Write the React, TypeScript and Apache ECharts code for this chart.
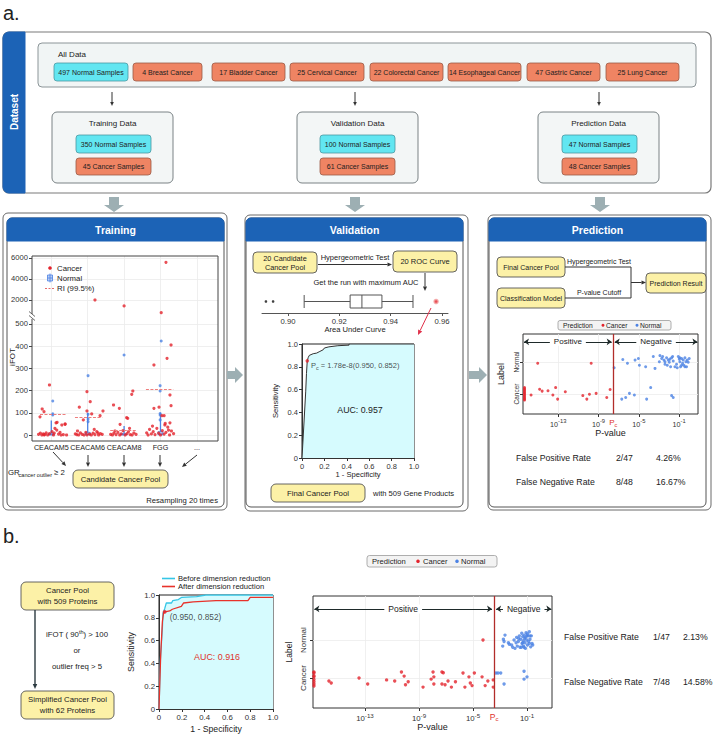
import React, { useEffect, useRef } from 'react';
import * as echarts from 'echarts';

const FONT = '"Liberation Sans", Arial, Helvetica, sans-serif';
const BLUE = '#1c63b6';
const CYAN = '#62e6f1';
const ORANGE = '#ef8463';
const YELLOW = '#fcf1a7';
const RED = '#e3232c';
const NBLUE = '#4b82e4';
const GREYARROW = '#9dafb3';
const ROCFILL = '#d6fbfe';

// ---------------- data ----------------
const allDataLabels = ['497 Normal Samples', '4 Breast Cancer', '17 Bladder Cancer', '25 Cervical Cancer', '22 Colorectal Cancer', '14 Esophageal Cancer', '47 Gastric Cancer', '25 Lung Cancer'];
const trainingDataLabels = ['350 Normal Samples', '45 Cancer Samples'];
const validationDataLabels = ['100 Normal Samples', '61 Cancer Samples'];
const predictionDataLabels = ['47 Normal Samples', '48 Cancer Samples'];

const trainCategories = ['CEACAM5', 'CEACAM6', 'CEACAM8', 'FGG', '...'];
const trainCatTicks = [0, 1, 2, 3, 4];
const trainLowTicks = [0, 100, 200, 300, 400, 500];
const trainHighTicks = [2000, 4000, 6000];
const trainCancerHigh = [[1.2, 2000], [2.0, 1430], [3.15, 5590], [3.02, 790]];
const trainCancerLow = [
  [-0.35, 3], [-0.3, 8], [-0.26, 0], [-0.22, 5], [-0.2, 1], [-0.18, 2], [-0.14, 10], [-0.1, 0], [-0.05, 6], [0.02, 15], [0.06, 0], [0.08, 8], [0.1, 30], [0.13, 55], [0.15, 22], [0.2, 4], [0.24, 12], [0.27, 0], [0.29, 45], [0.33, 2], [0.38, 50], [0.42, 0],
  [-0.05, 225], [-0.25, 117], [-0.2, 105], [-0.31, 82], [0.16, 57], [0.38, 48],
  [0.66, 5], [0.7, 2], [0.72, 18], [0.75, 0], [0.8, 10], [0.85, 3], [0.9, 0], [0.95, 12], [0.98, 1], [1.05, 4], [1.1, 0], [1.15, 8], [1.18, 25], [1.2, 2], [1.25, 15], [1.28, 10], [1.3, 0], [1.35, 6], [1.4, 3],
  [0.98, 195], [0.77, 125], [0.98, 108], [1.07, 150], [0.88, 68], [1.11, 95], [1.34, 87], [1.42, 108],
  [1.63, 3], [1.68, 0], [1.72, 8], [1.75, 18], [1.78, 2], [1.83, 12], [1.88, 0], [1.92, 5], [1.97, 20], [2.03, 0], [2.08, 6], [2.12, 15], [2.15, 30], [2.17, 2], [2.22, 0], [2.27, 9], [2.33, 3],
  [1.71, 135], [1.87, 120], [2.21, 183], [2.24, 198], [2.07, 78], [2.1, 75], [1.89, 48],
  [2.62, 10], [2.66, 0], [2.7, 25], [2.75, 5], [2.78, 40], [2.8, 15], [2.85, 2], [2.9, 30], [2.95, 8], [3.0, 0], [3.05, 20], [3.1, 4], [3.12, 45], [3.15, 12], [3.2, 35], [3.22, 22], [3.25, 0], [3.3, 18], [3.36, 6],
  [2.82, 120], [2.96, 125], [3.26, 180], [3.29, 132], [3.04, 87], [3.1, 87], [3.26, 55], [3.13, 52], [3.29, 405], [3.18, 345], [2.82, 315],
];
const trainNormalOutliers = [[0.04, 153], [0.04, 95], [0.04, 90], [1.01, 267], [1.01, 93], [1.01, 72], [1.01, 60], [2.0, 360], [3.02, 423], [2.99, 222], [2.99, 198], [2.99, 97], [2.99, 90], [2.99, 68]];
// [category index, min, q1, median, q3, max]
const trainNormalBox = [[0, 0, 0, 2, 8, 65], [1, 0, 1, 4, 12, 100], [2, 0, 0, 2, 6, 40], [3, 0, 1, 5, 15, 100]];
// [x start, x end, RI value]
const trainRI = [[-0.31, 0.43, 93], [0.65, 1.4, 82], [1.62, 2.36, 22], [2.6, 3.35, 207]];

const aucTicks = [0.9, 0.92, 0.94, 0.96];
const aucBox = [0.9063, 0.9242, 0.9288, 0.9366, 0.9487];
const aucOutliers = [0.8914, 0.8942];
const aucBest = 0.9577;

const valRoc = [[0, 0], [0.033, 0.58], [0.04, 0.74], [0.047, 0.852], [0.055, 0.88], [0.065, 0.9], [0.1, 0.915], [0.13, 0.92], [0.16, 0.935], [0.19, 0.95], [0.2, 0.965], [0.24, 0.975], [0.32, 0.985], [0.42, 0.99], [0.42, 1], [1, 1]];
const valCutPoint = [0.047, 0.852];

const pTicks = [-13, -9, -5, -1];
const labelTicks = [0, 1];
const predCutoff = -7.54;
const predCancer = [
  [-16.35, 0.2], [-16.35, 0.16], [-16.35, 0.12], [-16.35, 0.08], [-16.35, 0.04], [-16.35, 0], [-16.35, -0.04], [-16.35, -0.08], [-16.35, -0.12], [-16.35, -0.16], [-16.35, -0.19],
  [-15.7, -0.03], [-14.85, 0.15], [-14.6, 0.09], [-14.02, 0.1], [-13.53, -0.03], [-13.26, 0.2], [-13.06, -0.16], [-12.3, 0.07], [-10.56, -0.05], [-10.16, -0.16], [-9.9, -0.01], [-9.24, 0.02], [-8.18, -0.11], [-7.85, 0.14],
  [-15.04, 0.96], [-9.73, 0.96],
];
const predNormal = [
  [-6.69, -0.16], [-6.3, -0.11], [-5.93, 0.02], [-5.44, -0.03], [-4.22, -0.16], [-3.82, 0.2], [-1.74, -0.05], [-1.58, -0.11],
  [-7.45, 0.82], [-6.59, 1.08], [-6.13, 0.96], [-5.37, 1.06], [-5.04, 1.11], [-4.94, 0.9], [-4.32, 0.85], [-3.56, 1.17], [-3.39, 0.8], [-2.73, 1.11],
  [-2.63, 1.17], [-2.5, 1.06], [-2.4, 1.01], [-2.24, 1.13], [-2.17, 0.9], [-2.07, 1.06], [-1.97, 0.99], [-1.91, 1.09], [-1.84, 0.85], [-1.74, 1.13],
  [-1.58, 1.03], [-1.41, 0.85], [-1.25, 0.93], [-1.08, 1.17], [-0.98, 1.09], [-0.92, 1.01], [-0.85, 0.85], [-0.75, 1.11], [-0.65, 0.96], [-0.59, 1.06],
  [-0.52, 0.9], [-0.42, 1.13], [-0.32, 1.01], [-0.26, 0.85], [-0.19, 1.06], [-0.09, 0.99], [0.01, 1.11], [-2.96, 1.01], [-2.4, 0.93], [-1.64, 1.17],
  [-1.18, 0.82], [-0.75, 0.9], [-2.9, 1.2], [-0.42, 0.85], [-0.92, 1.13],
];
const predStats = [['False Positive Rate', '2/47', '4.26%'], ['False Negative Rate', '8/48', '16.67%']];

const bRocBefore = [[0, 0], [0.012, 0.43], [0.03, 0.72], [0.035, 0.84], [0.05, 0.88], [0.064, 0.93], [0.11, 0.93], [0.12, 0.95], [0.17, 0.96], [0.2, 0.98], [0.33, 0.985], [0.41, 1], [1, 1]];
const bRocAfter = [[0, 0], [0.006, 0.2], [0.015, 0.475], [0.023, 0.635], [0.03, 0.77], [0.04, 0.845], [0.05, 0.852], [0.094, 0.86], [0.117, 0.875], [0.196, 0.9], [0.216, 0.93], [0.3, 0.94], [0.5, 0.95], [0.78, 0.95], [0.8, 0.98], [1, 0.98]];
const bCutPoint = [0.05, 0.852];
const bCutoff = -3.44;
const bCancer = [
  [-16.78, 0.16], [-16.78, 0.13], [-16.78, 0.06], [-16.78, 0.03], [-16.78, -0.04], [-16.78, -0.1], [-16.78, -0.16], [-16.78, -0.21],
  [-15.67, -0.08], [-15.5, -0.13], [-13.44, 0], [-12.8, -0.16], [-11.4, -0.05], [-10.8, -0.08], [-10.3, 0.16], [-10.1, 0.05], [-10.0, -0.18], [-9.8, -0.1],
  [-8.7, -0.24], [-8.1, -0.03], [-7.96, 0.16], [-7.9, 0.03], [-7.9, -0.16], [-7.3, 0.16], [-7.2, 0.14], [-7.3, -0.16], [-7.07, -0.18], [-6.85, -0.08],
  [-6.6, -0.24], [-6.3, -0.1], [-5.74, 0.13], [-5.6, -0.24], [-5.3, 0.03], [-5.2, -0.13], [-5.07, -0.2], [-4.9, 0.13], [-4.33, 0.03], [-4.1, -0.2],
  [-3.9, -0.08], [-3.5, -0.05], [-3.5, -0.24], [-4.26, 1.0],
];
const bNormal = [
  [-3.3, 0.13], [-3.15, 0.13], [-2.95, 0.13], [-2.7, -0.16], [-1.22, 0.18], [-1.22, -0.03], [-1.0, 0.03],
  [-2.63, 1.13], [-2.75, 1.02], [-2.7, 0.96], [-2.8, 0.84], [-2.31, 0.89], [-1.96, 1.0], [-1.89, 0.78], [-1.77, 1.07], [-1.64, 0.96], [-1.57, 1.11],
  [-1.52, 0.81], [-1.47, 1.02], [-1.39, 1.18], [-1.37, 0.91], [-1.32, 1.09], [-1.27, 0.98], [-1.27, 0.84], [-1.22, 1.13], [-1.17, 1.04], [-1.15, 0.93],
  [-1.12, 0.78], [-1.07, 1.19], [-1.02, 1.0], [-0.97, 0.87], [-0.93, 1.11], [-0.88, 0.96], [-0.83, 1.22], [-0.78, 1.02], [-0.73, 0.82], [-0.68, 1.11],
  [-0.63, 0.91], [-0.58, 0.87], [-2.14, 0.87], [-1.72, 0.84], [-1.42, 0.81], [-1.02, 1.11], [-1.22, 0.81], [-1.62, 1.04], [-0.83, 0.91], [-1.32, 0.93],
  [-1.12, 1.07], [-0.97, 1.16], [-1.81, 0.93], [-2.06, 0.81], [-2.38, 0.93], [-0.78, 1.11],
];
const bStats = [['False Positive Rate', '1/47', '2.13%'], ['False Negative Rate', '7/48', '14.58%']];

// ---------------- helpers ----------------
function T(x: number, y: number, text: string, size = 7.6, o: any = {}): any {
  return { type: 'text', z: 60, x, y, style: { text, fontSize: size, fontFamily: FONT, fill: '#222', align: 'center', verticalAlign: 'middle', ...o } };
}
function TR(x: number, y: number, text: string, size: number, o: any = {}): any {
  return { type: 'text', z: 60, x, y, rotation: Math.PI / 2, style: { text, fontSize: size, fontFamily: FONT, fill: '#222', align: 'center', verticalAlign: 'middle', ...o } };
}
function R(x: number, y: number, w: number, h: number, fill: string, stroke: string, r: any = 0, lw = 1, z = 1): any {
  return { type: 'rect', z, shape: { x, y, width: w, height: h, r }, style: { fill, stroke, lineWidth: lw } };
}
function L(x1: number, y1: number, x2: number, y2: number, stroke = '#333', lw = 1, z = 20, dash?: number[]): any {
  return { type: 'line', z, shape: { x1, y1, x2, y2 }, style: { stroke, lineWidth: lw, lineDash: dash } };
}
function A(x1: number, y1: number, x2: number, y2: number, color = '#333', lw = 1, hs = 4.5): any[] {
  const ang = Math.atan2(y2 - y1, x2 - x1);
  const bx = x2 - hs * Math.cos(ang);
  const by = y2 - hs * Math.sin(ang);
  const px = -Math.sin(ang) * hs * 0.45;
  const py = Math.cos(ang) * hs * 0.45;
  return [
    L(x1, y1, bx, by, color, lw),
    { type: 'polygon', z: 21, shape: { points: [[x2, y2], [bx + px, by + py], [bx - px, by - py]] }, style: { fill: color } },
  ];
}
function fatDown(cx: number, y0: number, y1: number): any {
  return { type: 'polygon', z: 2, shape: { points: [[cx - 5, y0], [cx + 5, y0], [cx + 5, y1 - 7], [cx + 10, y1 - 7], [cx, y1], [cx - 10, y1 - 7], [cx - 5, y1 - 7]] }, style: { fill: GREYARROW } };
}
function fatRight(x0: number, cy: number, x1: number): any {
  return { type: 'polygon', z: 2, shape: { points: [[x0, cy - 4], [x1 - 8, cy - 4], [x1 - 8, cy - 8], [x1, cy], [x1 - 8, cy + 8], [x1 - 8, cy + 4], [x0, cy + 4]] }, style: { fill: GREYARROW } };
}
function sampleBox(x: number, y: number, w: number, h: number, label: string, normal: boolean): any[] {
  return [
    R(x, y, w, h, normal ? CYAN : ORANGE, normal ? '#4a98a2' : '#9b5a46', 3, 0.8, 3),
    T(x + w / 2, y + h / 2, label, 7),
  ];
}
function panel(fx: number, fy: number, fw: number, fh: number, ix: number, iy: number, iw: number, ih: number, title: string): any[] {
  return [
    R(fx, fy, fw, fh, '#fff', '#6b6b6b', 5, 1, -6),
    R(ix, iy, iw, ih, '#fff', '#555', 5, 1, -5),
    R(ix, iy, iw, 23, BLUE, BLUE, [5, 5, 0, 0], 1, -4),
    T(ix + iw / 2, iy + 12, title, 10.5, { fill: '#fff', fontWeight: 'bold' }),
  ];
}

function buildGraphics(): any[] {
  const els: any[] = [];
  // ---- a. Dataset ----
  els.push(T(3, 13, 'a.', 20, { align: 'left' }));
  els.push(R(3, 32, 708, 161, '#fff', '#7a7a7a', 6, 1.2, -6));
  els.push(R(3, 32, 22, 161, BLUE, BLUE, [6, 0, 0, 6], 1, -5));
  els.push(TR(14, 112, 'Dataset', 10, { fill: '#fff', fontWeight: 'bold' }));
  els.push(R(38, 43, 658, 44, '#f1f5f5', '#8c9598', 4, 1, 1));
  els.push(T(58, 54, 'All Data', 8, { align: 'left' }));
  const allX = [54, 133, 212, 290, 370, 448, 527, 606];
  const allW = [74, 69, 73, 74, 73, 73, 73, 73];
  allDataLabels.forEach((lab, i) => els.push(...sampleBox(allX[i], 63, allW[i], 18, lab, i === 0)));
  [112, 355, 599].forEach((x) => els.push(...A(x, 92, x, 106, '#333', 1, 4)));
  const subBoxes: [number, number, string, string[]][] = [
    [52, 76, 'Training Data', trainingDataLabels],
    [297, 320, 'Validation Data', validationDataLabels],
    [538, 562, 'Prediction Data', predictionDataLabels],
  ];
  subBoxes.forEach(([bx, ix, title, labs]) => {
    els.push(R(bx, 112, 121, 71, '#f3f6f6', '#7a8285', 5, 1, 1));
    els.push(T(bx + 60.5, 123, title, 8));
    els.push(...sampleBox(ix, 135, 75, 18, labs[0], true));
    els.push(...sampleBox(ix, 158, 75, 17, labs[1], false));
  });
  els.push(fatDown(114, 197, 212), fatDown(355, 197, 212), fatDown(600, 197, 212));

  // ---- panels ----
  els.push(...panel(3, 213, 224, 297, 7, 218, 217, 289, 'Training'));
  els.push(...panel(245, 215, 223, 296, 246, 218, 217, 289, 'Validation'));
  els.push(...panel(488, 215, 223, 295, 489, 218, 217, 289, 'Prediction'));
  els.push(fatRight(227, 375, 243), fatRight(469, 375, 487));

  // Training extras
  els.push(R(32, 256, 186, 185, 'none', '#444', 0, 1, 30));
  els.push(R(30.5, 314, 3, 5, '#fff', '#fff', 0, 0, 31));
  els.push(L(29, 311.5, 35, 316.5, '#444', 0.8, 32), L(29, 315.5, 35, 320.5, '#444', 0.8, 32));
  els.push(TR(12, 357, 'iFOT', 8));
  els.push({ type: 'circle', z: 40, shape: { cx: 50, cy: 268, r: 1.8 }, style: { fill: RED } });
  els.push(T(57, 268, 'Cancer', 7.8, { align: 'left' }));
  els.push(R(47.5, 275, 5, 6, '#bcd0f4', NBLUE, 0, 0.8, 40));
  els.push(L(50, 273.5, 50, 282.5, NBLUE, 0.8, 41), L(47.5, 278, 52.5, 278, NBLUE, 0.8, 41));
  els.push(T(57, 278, 'Normal', 7.8, { align: 'left' }));
  els.push(L(45, 288.5, 55, 288.5, '#e46a6a', 1, 40, [2, 1.5]));
  els.push(T(57, 288.5, 'RI (99.5%)', 7.8, { align: 'left' }));
  els.push(...A(53, 452, 66, 466), ...A(88, 455, 88, 467), ...A(124, 455, 124, 467), ...A(160, 455, 160, 467), ...A(197, 455, 182, 467));
  els.push(T(8, 472, 'GR', 7.8, { align: 'left' }));
  els.push(T(18.5, 474.5, 'cancer outlier', 5.6, { align: 'left' }));
  els.push(T(54, 472, '≥ 2', 7.8, { align: 'left' }));
  els.push(R(73, 470, 95, 18, YELLOW, '#555', 5, 0.9, 5));
  els.push(T(120.5, 479, 'Candidate Cancer Pool', 7.7));
  els.push(T(218, 500, 'Resampling 20 times', 7.7, { align: 'right' }));

  // Validation extras
  els.push(R(253, 252, 64, 21, YELLOW, '#555', 4, 0.9, 5));
  els.push(T(285, 262.5, '20 Candidate\nCancer Pool', 7.3, { lineHeight: 9 }));
  els.push(...A(318, 264.5, 392, 264.5));
  els.push(T(355, 257, 'Hypergeometric Test', 7.5));
  els.push(R(393, 251, 64, 21, YELLOW, '#555', 4, 0.9, 5));
  els.push(T(425, 261.5, '20 ROC Curve', 7.5));
  els.push(...A(425, 273, 425, 291));
  els.push(T(366, 282, 'Get the run with maximum AUC', 7.5));
  els.push(...A(431, 308, 418, 335, '#e0304a', 1, 5));
  els.push(T(360, 410, 'AUC: 0.957', 8.8));
  els.push(R(271, 484, 94, 18, YELLOW, '#555', 5, 0.9, 5));
  els.push(T(318, 493, 'Final Cancer Pool', 7.8));
  els.push(T(373, 493, 'with 509 Gene Products', 7.6, { align: 'left' }));

  // Prediction extras
  els.push(R(497, 257, 68, 20, YELLOW, '#555', 4, 0.9, 5));
  els.push(T(531, 267, 'Final Cancer Pool', 7));
  els.push(R(497, 288, 68, 20, YELLOW, '#555', 4, 0.9, 5));
  els.push(T(531, 298, 'Classification Model', 7));
  els.push({ type: 'polyline', z: 20, shape: { points: [[565, 267], [631, 267], [631, 298], [565, 298]] }, style: { stroke: '#333', lineWidth: 1, fill: 'none' } });
  els.push(...A(631, 282.5, 646, 282.5));
  els.push(T(599, 261, 'Hypergeometric Test', 7));
  els.push(T(599, 292.5, 'P-value Cutoff', 7));
  els.push(R(646, 273, 60, 20, YELLOW, '#555', 4, 0.9, 5));
  els.push(T(676, 283, 'Prediction Result', 7));
  els.push(R(558, 320.5, 113, 9.5, '#f3f3f3', '#9a9a9a', 2, 0.8, 5));
  els.push(T(563, 325.3, 'Prediction', 6.7, { align: 'left' }));
  els.push({ type: 'circle', z: 40, shape: { cx: 603, cy: 325.3, r: 1.5 }, style: { fill: RED } });
  els.push(T(606, 325.3, 'Cancer', 6.7, { align: 'left' }));
  els.push({ type: 'circle', z: 40, shape: { cx: 637, cy: 325.3, r: 1.5 }, style: { fill: NBLUE } });
  els.push(T(640, 325.3, 'Normal', 6.7, { align: 'left' }));
  predStats.forEach((row, i) => {
    const y = 458 + i * 24;
    els.push(T(516, y, row[0], 8.7, { align: 'left' }), T(616, y, row[1], 8.7, { align: 'left' }), T(656, y, row[2], 8.7, { align: 'left' }));
  });

  // ---- b. ----
  els.push(T(3, 536, 'b.', 20, { align: 'left' }));
  els.push(R(367, 555.5, 130, 11.5, '#f3f3f3', '#9a9a9a', 2.5, 0.8, 5));
  els.push(T(372, 561.3, 'Prediction', 7.6, { align: 'left' }));
  els.push({ type: 'circle', z: 40, shape: { cx: 418, cy: 561.3, r: 1.8 }, style: { fill: RED } });
  els.push(T(423, 561.3, 'Cancer', 7.6, { align: 'left' }));
  els.push({ type: 'circle', z: 40, shape: { cx: 457, cy: 561.3, r: 1.8 }, style: { fill: NBLUE } });
  els.push(T(461, 561.3, 'Normal', 7.6, { align: 'left' }));
  els.push(R(21, 582, 93, 28, YELLOW, '#555', 5, 0.9, 5));
  els.push(T(67.5, 596, 'Cancer Pool\nwith 509 Proteins', 7.8, { lineHeight: 11 }));
  els.push(...A(35, 610, 35, 689, '#2b3a40', 1.4, 5));
  els.push(T(77, 634, 'iFOT ( 90{sup|th}) > 100', 7.8, { rich: { sup: { fontSize: 5.5, padding: [0, 0, 5, 0], fontFamily: FONT, fill: '#222' } } }));
  els.push(T(77, 650, 'or', 7.8));
  els.push(T(77, 666, 'outlier freq > 5', 7.8));
  els.push(R(21, 691, 93, 28, YELLOW, '#555', 5, 0.9, 5));
  els.push(T(67.5, 705, 'Simplified Cancer Pool\nwith 62 Proteins', 7.8, { lineHeight: 11 }));
  els.push(L(162, 578.5, 175, 578.5, '#35c6e6', 1.6, 40), T(178, 578.5, 'Before dimension reduction', 7.6, { align: 'left' }));
  els.push(L(162, 586.5, 175, 586.5, '#e8322b', 1.6, 40), T(178, 586.5, 'After dimension reduction', 7.6, { align: 'left' }));
  els.push(T(217, 657, 'AUC: 0.916', 8.9, { fill: '#e0302a' }));
  bStats.forEach((row, i) => {
    const y = 637 + i * 45;
    els.push(T(564, y, row[0], 8.7, { align: 'left' }), T(653, y, row[1], 8.7, { align: 'left' }), T(683, y, row[2], 8.7, { align: 'left' }));
  });
  return els;
}

// ---------------- axes ----------------
const TICKC = '#333';
function trainX(gi: number, labels: boolean): any {
  return {
    type: 'value', gridIndex: gi, min: -0.53, max: 4.58,
    axisLine: { show: false, onZero: false },
    axisTick: { show: false, customValues: trainCatTicks },
    axisLabel: { show: labels, customValues: trainCatTicks, formatter: (v: number) => trainCategories[Math.round(v)], fontSize: 7.2, color: '#222', margin: 3, fontFamily: FONT },
    splitLine: { show: true, lineStyle: { color: '#ebebeb', width: 0.8 } },
  };
}
function trainY(gi: number, min: number, max: number, ticks: number[]): any {
  return {
    type: 'value', gridIndex: gi, min, max,
    axisLine: { show: false, onZero: false },
    axisTick: { show: true, customValues: ticks, length: 3, lineStyle: { color: '#444' } },
    axisLabel: { customValues: ticks, fontSize: 7.6, color: TICKC, margin: 4, fontFamily: FONT, formatter: (v: number) => String(Math.round(v)) },
    splitLine: { show: true, lineStyle: { color: '#ebebeb', width: 0.8 } },
  };
}
function rocAxis(gi: number, isX: boolean, fs: number, nameSize: number, gap: number): any {
  return {
    type: 'value', gridIndex: gi, min: 0, max: 1, interval: 0.2,
    axisLine: { show: true, onZero: false, lineStyle: { color: '#333' } },
    axisTick: { show: true, length: 3, lineStyle: { color: '#333' } },
    axisLabel: { fontSize: fs, color: TICKC, margin: 4, fontFamily: FONT, formatter: (v: number) => (v === 0 ? '0' : v.toFixed(1)) },
    splitLine: { show: false },
    name: isX ? '1 - Specificity' : 'Sensitivity', nameLocation: 'middle', nameGap: gap,
    nameRotate: isX ? 0 : 90,
    nameTextStyle: { fontSize: nameSize, color: '#222', fontFamily: FONT },
  };
}
function pAxis(gi: number, min: number, max: number, fs: number, sup: number, nameSize: number, gap: number): any {
  return {
    type: 'value', gridIndex: gi, min, max,
    axisLine: { show: false, onZero: false },
    axisTick: { show: true, customValues: pTicks, length: 3, lineStyle: { color: '#333' } },
    axisLabel: {
      customValues: pTicks, fontSize: fs, color: TICKC, margin: 4, fontFamily: FONT,
      formatter: (v: number) => '10{sup|' + Math.round(v) + '}',
      rich: { sup: { fontSize: sup, color: TICKC, padding: [0, 0, 6, 0], fontFamily: FONT } },
    },
    splitLine: { show: true, lineStyle: { color: '#ececec', width: 0.8 } },
    name: 'P-value', nameLocation: 'middle', nameGap: gap,
    nameTextStyle: { fontSize: nameSize, color: '#222', fontFamily: FONT },
  };
}
function labelAxis(gi: number, min: number, max: number, fs: number, margin: number, nameSize: number, gap: number): any {
  return {
    type: 'value', gridIndex: gi, min, max,
    axisLine: { show: false, onZero: false },
    axisTick: { show: true, customValues: labelTicks, length: 3, lineStyle: { color: '#333' } },
    axisLabel: { customValues: labelTicks, rotate: 90, fontSize: fs, color: TICKC, margin, fontFamily: FONT, formatter: (v: number) => (v < 0.5 ? 'Cancer' : 'Normal') },
    splitLine: { show: true, lineStyle: { color: '#ececec', width: 0.8 } },
    name: 'Label', nameLocation: 'middle', nameGap: gap, nameRotate: 90,
    nameTextStyle: { fontSize: nameSize, color: '#222', fontFamily: FONT },
  };
}

function cutMarkLine(cut: number, xMin: number, xMax: number, ay: number, fs: number): any {
  const arrowStyle = { color: '#1e2a2a', width: 1.1, type: 'solid' };
  const lab = (t: string) => ({ show: true, position: 'insideMiddle', formatter: () => t, color: '#222', fontSize: fs, fontFamily: FONT, backgroundColor: '#fff', padding: [0, 4] });
  return {
    silent: true, animation: false, symbol: ['none', 'none'], symbolSize: 5,
    data: [
      {
        xAxis: cut,
        lineStyle: { color: '#b22d2a', width: 1.3, type: 'solid' },
        label: { show: true, position: 'start', distance: 3, formatter: () => 'P{sub|c}', color: '#e0302a', fontSize: fs, fontFamily: FONT, rich: { sub: { fontSize: fs - 2.5, color: '#e0302a', padding: [5, 0, 0, 0] } } },
      },
      [
        { coord: [xMin, ay], symbol: 'arrow', lineStyle: arrowStyle, label: lab('Positive') },
        { coord: [cut - 0.15, ay], symbol: 'arrow' },
      ],
      [
        { coord: [cut + 0.15, ay], symbol: 'arrow', lineStyle: arrowStyle, label: lab('Negative') },
        { coord: [xMax, ay], symbol: 'arrow' },
      ],
    ],
  };
}

function buildOption(): any {
  const grid = [
    { left: 32, top: 256, width: 186, height: 61 },
    { left: 32, top: 317, width: 186, height: 124 },
    { left: 262, top: 290, width: 186, height: 23 },
    { left: 302, top: 344, width: 112, height: 114, show: true, borderColor: '#222', borderWidth: 1, backgroundColor: 'transparent' },
    { left: 523, top: 334, width: 175, height: 80, show: true, borderColor: '#333', borderWidth: 1, backgroundColor: 'transparent' },
    { left: 159, top: 595, width: 114, height: 114, show: true, borderColor: '#222', borderWidth: 1, backgroundColor: 'transparent' },
    { left: 313, top: 596, width: 239, height: 112, show: true, borderColor: '#333', borderWidth: 1, backgroundColor: 'transparent' },
  ];
  const xAxis = [
    trainX(0, false),
    trainX(1, true),
    {
      type: 'value', gridIndex: 2, min: 0.88987, max: 0.96234,
      axisLine: { show: true, onZero: false, lineStyle: { color: '#555' } },
      axisTick: { show: true, customValues: aucTicks, length: 3, lineStyle: { color: '#555' } },
      axisLabel: { customValues: aucTicks, formatter: (v: number) => v.toFixed(2), fontSize: 7.7, color: TICKC, margin: 4, fontFamily: FONT },
      splitLine: { show: false },
      name: 'Area Under Curve', nameLocation: 'middle', nameGap: 11,
      nameTextStyle: { fontSize: 7.6, color: '#222', fontFamily: FONT },
    },
    rocAxis(3, true, 7.5, 7.6, 12),
    pAxis(4, -16.5, 0.88, 7.2, 5.8, 9, 13),
    rocAxis(5, true, 7.8, 8.7, 15),
    pAxis(6, -16.85, 0.85, 7.8, 6.2, 9, 14),
  ];
  const yAxis = [
    trainY(0, 381, 6190, trainHighTicks),
    trainY(1, -27, 531, trainLowTicks),
    { type: 'category', gridIndex: 2, data: ['AUC'], show: false },
    rocAxis(3, false, 7.5, 7.6, 23),
    labelAxis(4, -0.625, 1.875, 6.5, 3, 9, 18),
    rocAxis(5, false, 7.8, 8.9, 24),
    labelAxis(6, -0.79, 2.16, 8, 6, 8.5, 20),
  ];

  const series: any[] = [
    // Training: Normal boxplot-like marks (custom) + outliers
    {
      type: 'custom', name: 'Normal', xAxisIndex: 1, yAxisIndex: 1, data: trainNormalBox,
      encode: { x: 0, y: [1, 2, 3, 4, 5] }, z: 3,
      renderItem: (params: any, api: any) => {
        const x = api.value(0);
        const pMin = api.coord([x, api.value(1)]);
        const pQ1 = api.coord([x, api.value(2)]);
        const pMed = api.coord([x, api.value(3)]);
        const pQ3 = api.coord([x, api.value(4)]);
        const pMax = api.coord([x, api.value(5)]);
        const w = 5;
        return {
          type: 'group',
          children: [
            { type: 'line', shape: { x1: pMin[0], y1: pMin[1], x2: pMax[0], y2: pMax[1] }, style: { stroke: NBLUE, lineWidth: 1.3 } },
            { type: 'rect', shape: { x: pQ3[0] - w / 2, y: pQ3[1], width: w, height: Math.max(1, pQ1[1] - pQ3[1]) }, style: { fill: '#bcd0f4', stroke: NBLUE, lineWidth: 0.8 } },
            { type: 'line', shape: { x1: pMed[0] - w / 2, y1: pMed[1], x2: pMed[0] + w / 2, y2: pMed[1] }, style: { stroke: NBLUE, lineWidth: 0.8 } },
          ],
        };
      },
    },
    { type: 'scatter', name: 'Normal', xAxisIndex: 1, yAxisIndex: 1, data: trainNormalOutliers, symbolSize: 3, itemStyle: { color: NBLUE }, z: 3 },
    { type: 'scatter', name: 'Cancer', xAxisIndex: 0, yAxisIndex: 0, data: trainCancerHigh, symbolSize: 3.2, itemStyle: { color: RED }, z: 4 },
    { type: 'scatter', name: 'Cancer', xAxisIndex: 1, yAxisIndex: 1, data: trainCancerLow, symbolSize: 3.2, itemStyle: { color: RED }, z: 4 },
    {
      type: 'lines', name: 'RI (99.5%)', coordinateSystem: 'cartesian2d', xAxisIndex: 1, yAxisIndex: 1, z: 5,
      data: trainRI.map((r) => ({ coords: [[r[0], r[2]], [r[1], r[2]]] })),
      lineStyle: { color: '#ee7d7d', width: 1.1, type: [3, 1.5], opacity: 1 },
    },
    // Validation AUC boxplot
    {
      type: 'boxplot', xAxisIndex: 2, yAxisIndex: 2, data: [aucBox], boxWidth: [13, 13],
      itemStyle: { color: '#fff', borderColor: '#555', borderWidth: 1 },
    },
    { type: 'scatter', xAxisIndex: 2, yAxisIndex: 2, data: aucOutliers.map((v) => [v, 'AUC']), symbolSize: 2.6, itemStyle: { color: '#111' } },
    { type: 'scatter', xAxisIndex: 2, yAxisIndex: 2, data: [[aucBest, 'AUC']], symbolSize: 4, itemStyle: { color: '#e3232c', borderColor: '#f3a3a3', borderWidth: 1.5 } },
    // Validation ROC
    {
      type: 'line', xAxisIndex: 3, yAxisIndex: 3, data: valRoc, showSymbol: false, symbol: 'none',
      lineStyle: { color: '#333', width: 1 }, areaStyle: { color: ROCFILL, opacity: 1 },
    },
    {
      type: 'scatter', xAxisIndex: 3, yAxisIndex: 3, data: [valCutPoint], symbolSize: 3.5, itemStyle: { color: RED }, z: 5,
      label: {
        show: true, position: 'right', distance: 2, offset: [0, 5], color: '#222', fontSize: 7.5, fontFamily: FONT,
        formatter: () => 'P{sub|c} = 1.78e-8(0.950, 0.852)',
        rich: { sub: { fontSize: 5.5, color: '#222', padding: [4, 0, 0, 0] } },
      },
    },
    // Prediction scatter
    { type: 'scatter', name: 'Normal', xAxisIndex: 4, yAxisIndex: 4, data: predNormal, symbolSize: 3, itemStyle: { color: NBLUE } },
    {
      type: 'scatter', name: 'Cancer', xAxisIndex: 4, yAxisIndex: 4, data: predCancer, symbolSize: 3, itemStyle: { color: RED },
      markLine: cutMarkLine(predCutoff, -16.4, 0.82, 1.63, 8),
    },
    // b. ROC
    {
      type: 'line', name: 'Before dimension reduction', xAxisIndex: 5, yAxisIndex: 5, data: bRocBefore, showSymbol: false, symbol: 'none',
      lineStyle: { color: '#35c6e6', width: 1.3 }, areaStyle: { color: ROCFILL, opacity: 1 },
    },
    {
      type: 'line', name: 'After dimension reduction', xAxisIndex: 5, yAxisIndex: 5, data: bRocAfter, showSymbol: false, symbol: 'none',
      lineStyle: { color: '#e8322b', width: 1.3 },
    },
    {
      type: 'scatter', xAxisIndex: 5, yAxisIndex: 5, data: [bCutPoint], symbolSize: 4, itemStyle: { color: RED }, z: 5,
      label: { show: true, position: 'right', distance: 3, offset: [0, 5], color: '#222', fontSize: 8.3, fontFamily: FONT, formatter: () => '(0.950, 0.852)' },
    },
    // b. scatter
    { type: 'scatter', name: 'Normal', xAxisIndex: 6, yAxisIndex: 6, data: bNormal, symbolSize: 3.4, itemStyle: { color: NBLUE } },
    {
      type: 'scatter', name: 'Cancer', xAxisIndex: 6, yAxisIndex: 6, data: bCancer, symbolSize: 3.4, itemStyle: { color: RED },
      markLine: cutMarkLine(bCutoff, -16.75, 0.8, 1.82, 8.5),
    },
  ];

  return {
    animation: false,
    backgroundColor: '#fff',
    textStyle: { fontFamily: FONT },
    grid, xAxis, yAxis, series,
    graphic: { elements: buildGraphics() },
  };
}

export default function App() {
  const ref = useRef<HTMLDivElement>(null);
  useEffect(() => {
    const chart = echarts.init(ref.current as HTMLDivElement, null, { renderer: 'svg' });
    chart.setOption(buildOption());
    return () => chart.dispose();
  }, []);
  return <div ref={ref} style={{ position: 'fixed', left: 0, top: 0, width: 715, height: 737, background: '#fff' }} />;
}
